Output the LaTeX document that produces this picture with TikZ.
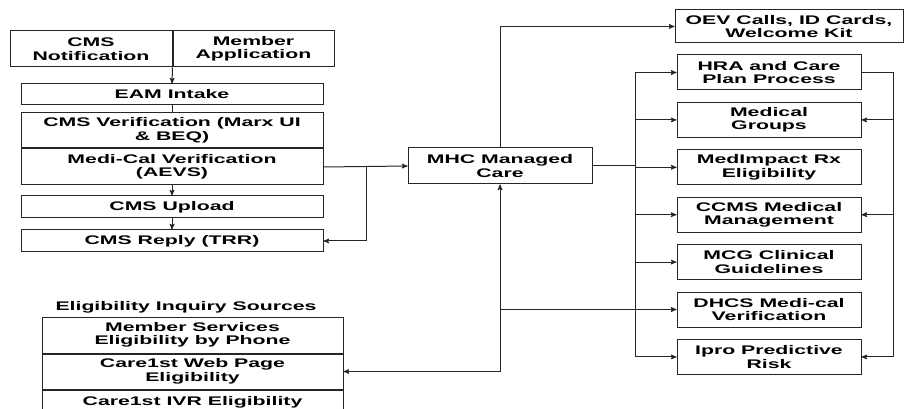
\documentclass[tikz,border=0pt]{standalone}
\usepackage{fontspec}
\newfontfamily\boxfont{Liberation Sans}[FakeStretch=1.7]
\usetikzlibrary{arrows,positioning}
\tikzset{
    %Define standard arrow tip
    >=stealth',
    %Define style for boxes
    cell/.style={
           rectangle,
           draw=black!85, line width=1pt,
           inner sep=1pt,
           align=center,
           font=\boxfont\bfseries\fontsize{12.5}{13.5}\selectfont},
    % Define arrow style
    feed/.style={
           ->,
           draw=black!85,
           line width=1pt},
    wire/.style={
           draw=black!85,
           line width=1pt}
}
\begin{document}
\begin{tikzpicture}[x=1pt,y=-1pt,
side/.style={cell, minimum width=184, minimum height=35},
wide/.style={cell, minimum width=302}
]
\clip (0,0) rectangle (914,409);
\fill[white] (0,0) rectangle (914,409);
%Left column
\node[cell, minimum width=162, minimum height=36] (cmsnot) at (91,49) {CMS\\Notification};
\node[cell, minimum width=161, minimum height=36] (memapp) [right=0pt of cmsnot] {Member\\Application};
\node[wide, minimum height=21] (intake) at (172,94.5) {EAM Intake};
\node[wide, minimum height=35] (cmsver) at (172,130.5) {CMS Verification (Marx UI\\\& BEQ)};
\node[wide, minimum height=36] (medical) [below=0pt of cmsver] {Medi-Cal Verification\\(AEVS)};
\node[wide, minimum height=22] (upload) at (172,207) {CMS Upload};
\node[wide, minimum height=22] (reply) at (172,241) {CMS Reply (TRR)};
%Eligibility sources
\node[font=\boxfont\bfseries\fontsize{12.5}{13.5}\selectfont] (elighead) at (186,307) {Eligibility Inquiry Sources};
\node[cell, minimum width=301, minimum height=36] (memsvc) at (192.5,335) {Member Services\\Eligibility by Phone};
\node[cell, minimum width=301, minimum height=35] (web) [below=0pt of memsvc] {Care1st Web Page\\Eligibility};
\node[cell, minimum width=301, minimum height=35] (ivr) [below=0pt of web] {Care1st IVR Eligibility\\~};
%Middle
\node[cell, minimum width=184, minimum height=36] (mhc) at (500,166) {MHC Managed\\Care};
\node[cell, minimum width=228, minimum height=33] (oev) at (789,26.5) {OEV Calls, ID Cards,\\Welcome Kit};
%Right column
\node[side] (hra) at (769,72.5) {HRA and Care\\Plan Process};
\node[side] (medgrp) [below=11.4pt of hra] {Medical\\Groups};
\node[side] (medimp) [below=11.4pt of medgrp] {MedImpact Rx\\Eligibility};
\node[side] (ccms) [below=11.4pt of medimp] {CCMS Medical\\Management};
\node[side] (mcg) [below=11.4pt of ccms] {MCG Clinical\\Guidelines};
\node[side] (dhcs) [below=11.4pt of mcg] {DHCS Medi-cal\\Verification};
\node[side] (ipro) [below=11.4pt of dhcs] {Ipro Predictive\\Risk};
%Connectors
\draw[feed] (cmsnot.south east) -- (intake.north);
\draw[wire] (intake.south) -- (cmsver.north);
\draw[feed] (medical.south) -- (upload.north);
\draw[feed] (upload.south) -- (reply.north);
\draw[feed] (medical.east) -- (mhc.west);
\coordinate (split) at (366,166);
\draw[feed] (split) |- (reply.east);
\draw[feed] (mhc.north) |- (oev.west);
\coordinate (busin) at (635,166);
\draw[wire] (mhc.east) -- (busin);
\draw[wire] (busin |- hra.west) -- (busin |- ipro.west);
\foreach \n in {hra,medgrp,medimp,ccms,mcg,dhcs,ipro}
    \draw[feed] (busin |- \n.west) -- (\n.west);
\coordinate (back) at (893,0);
\draw[wire] (hra.east) -- (back |- hra.east) -- (back |- ipro.east);
\foreach \n in {medgrp,ccms,ipro}
    \draw[feed] (back |- \n.east) -- (\n.east);
\coordinate (eljoin) at (mhc.south |- web.east);
\draw[feed] (eljoin) -- (mhc.south);
\draw[feed] (eljoin) -- (web.east);
\draw[wire] (mhc.south |- dhcs.west) -- (busin |- dhcs.west);
\end{tikzpicture}
\end{document}
